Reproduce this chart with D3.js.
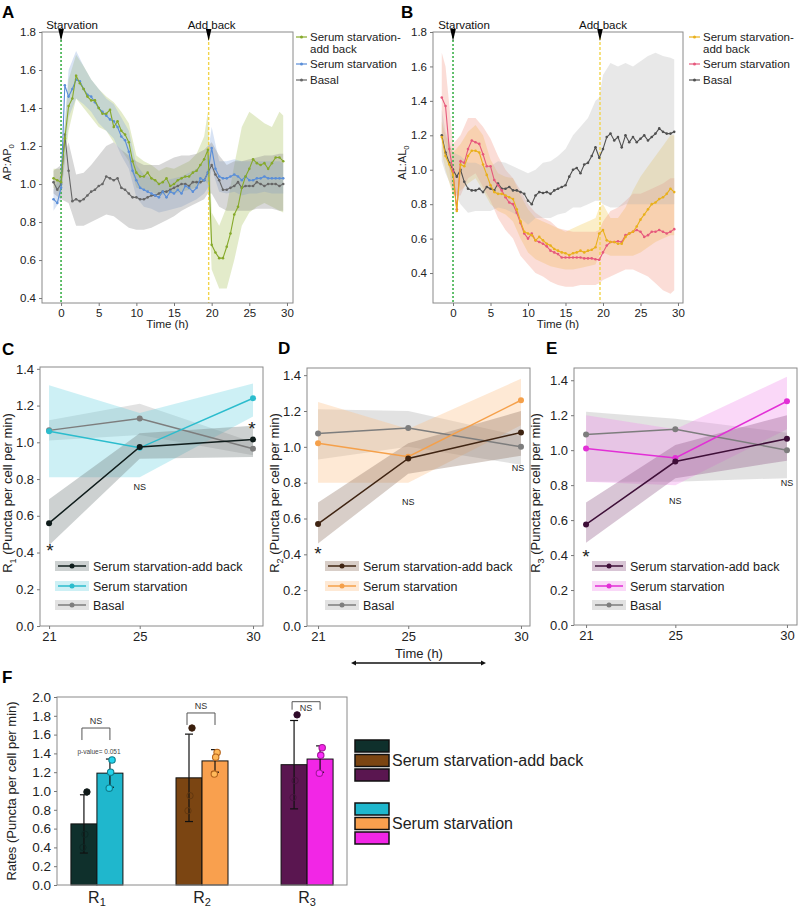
<!DOCTYPE html>
<html><head><meta charset="utf-8">
<script src="https://cdn.jsdelivr.net/npm/d3@7"></script>
<style>body{margin:0;background:#fff}</style>
</head><body>
<script>
// ---------------- DATA ----------------
const tA = [-1,-0.5,0,0.5,1,1.5,2,2.5,3,3.5,4,4.5,5,5.5,6,6.5,7,7.5,8,8.5,9,9.5,10,10.5,11,11.5,12,12.5,13,13.5,14,14.5,15,15.5,16,16.5,17,17.5,18,18.5,19,19.5,20,20.5,21,21.5,22,22.5,23,23.5,24,24.5,25,25.5,26,26.5,27,27.5,28,28.5,29,29.5];
const aAddBack = [1.03,1.02,1.01,1.24,1.41,1.45,1.57,1.53,1.50,1.46,
 1.44,1.44,1.40,1.37,1.37,1.39,1.30,1.33,1.28,1.26,
 1.22,1.12,1.06,1.04,1.04,1.06,1.03,1.02,1.00,1.01,
 1.03,0.99,1.00,1.02,1.03,1.04,1.04,1.06,1.07,1.10,
 1.13,1.18,0.68,0.64,0.61,0.61,0.67,0.74,0.84,0.88,
 0.98,1.04,1.08,1.13,1.11,1.10,1.11,1.08,1.11,1.14,
 1.14,1.12];
const aStarv = [0.92,0.90,0.98,1.52,1.46,1.50,1.55,1.54,1.50,1.47,
 1.46,1.43,1.40,1.38,1.36,1.34,1.33,1.30,1.25,1.23,
 1.17,1.07,1.02,0.98,0.97,0.96,0.95,0.94,0.93,0.96,
 0.93,0.96,0.95,0.97,0.95,0.99,0.98,0.96,0.98,1.03,
 1.02,1.06,1.19,1.08,1.04,1.03,1.03,1.04,1.05,1.04,
 1.02,1.04,1.02,1.02,1.03,1.03,1.04,1.03,1.03,1.03,
 1.03,1.03];
const aBasal = [1.01,0.97,1.00,1.26,1.07,0.91,0.92,0.91,0.92,0.94,
 0.96,0.97,0.99,1.00,1.04,1.03,1.02,1.03,0.98,0.97,
 0.95,0.93,0.93,0.92,0.92,0.93,0.94,0.94,0.95,0.96,
 0.96,0.97,0.98,0.99,1.00,1.00,0.99,1.01,1.01,1.01,
 1.02,1.06,1.10,1.05,1.02,0.97,0.97,0.98,0.99,1.01,
 0.98,0.99,0.99,0.99,1.01,1.00,0.99,1.00,1.00,1.00,
 0.99,1.00];
const bandTA = [-1,0,1,2,3,4,5,6,7,8,9,10,11,12,13,14,15,16,17,18,19,19.5,20,21,22,23,24,25,26,27,28,29,29.5];
const aAddLo = [0.98,0.95,1.28,1.45,1.40,1.35,1.30,1.28,1.22,1.18,1.12,0.98,0.97,0.96,0.94,0.95,0.95,0.96,0.97,0.98,1.02,1.00,0.55,0.45,0.45,0.60,0.78,0.85,0.88,0.90,0.88,0.86,0.85];
const aAddHi = [1.08,1.08,1.55,1.68,1.62,1.55,1.50,1.46,1.43,1.38,1.32,1.15,1.12,1.10,1.07,1.09,1.08,1.10,1.12,1.16,1.25,1.38,0.85,0.78,0.88,1.10,1.30,1.38,1.35,1.32,1.30,1.38,1.36];
const aStarvLo = [0.86,0.92,1.35,1.45,1.42,1.38,1.32,1.28,1.24,1.15,1.08,0.93,0.88,0.87,0.85,0.86,0.87,0.88,0.90,0.92,0.95,0.98,1.08,0.96,0.95,0.96,0.94,0.95,0.95,0.96,0.95,0.95,0.95];
const aStarvHi = [0.97,1.05,1.60,1.70,1.62,1.55,1.50,1.45,1.42,1.35,1.28,1.10,1.05,1.03,1.01,1.02,1.03,1.04,1.06,1.08,1.12,1.16,1.30,1.12,1.12,1.13,1.12,1.12,1.12,1.12,1.12,1.12,1.11];
const aBasalLo = [0.95,0.92,0.90,0.78,0.78,0.80,0.82,0.84,0.83,0.80,0.77,0.76,0.76,0.77,0.79,0.81,0.83,0.86,0.88,0.90,0.92,0.95,0.95,0.88,0.86,0.86,0.86,0.86,0.87,0.87,0.87,0.86,0.86];
const aBasalHi = [1.07,1.10,1.22,1.05,1.06,1.10,1.15,1.20,1.22,1.18,1.15,1.12,1.10,1.10,1.10,1.12,1.14,1.15,1.15,1.16,1.18,1.20,1.22,1.15,1.10,1.12,1.12,1.13,1.14,1.15,1.15,1.16,1.16];

const tB = [-1.5,-1,-0.5,0,0.5,1,1.5,2,2.5,3,3.5,4,4.5,5,5.5,6,6.5,7,7.5,8,8.5,9,9.5,10,10.5,11,11.5,12,12.5,13,13.5,14,14.5,15,15.5,16,16.5,17,17.5,18,18.5,19,19.5,20,20.5,21,21.5,22,22.5,23,23.5,24,24.5,25,25.5,26,26.5,27,27.5,28,28.5,29,29.5];
const bAddBack = [1.19,1.08,1.03,0.97,0.76,1.03,1.02,1.08,1.11,1.11,
 1.10,1.03,0.97,0.91,0.87,0.86,0.86,0.85,0.84,0.83,
 0.77,0.70,0.64,0.63,0.62,0.59,0.61,0.59,0.57,0.56,
 0.54,0.53,0.52,0.515,0.505,0.515,0.52,0.53,0.52,0.53,
 0.535,0.55,0.63,0.65,0.59,0.58,0.58,0.57,0.57,0.61,
 0.63,0.64,0.67,0.71,0.74,0.77,0.80,0.81,0.83,0.84,
 0.86,0.89,0.87];
const bStarv = [1.42,1.37,1.12,0.99,0.77,1.05,1.04,1.12,1.17,1.16,
 1.15,1.09,1.02,1.02,0.94,0.91,0.88,0.84,0.81,0.80,
 0.75,0.69,0.63,0.60,0.63,0.59,0.58,0.57,0.555,0.53,
 0.52,0.51,0.49,0.49,0.49,0.49,0.49,0.49,0.485,0.485,
 0.485,0.48,0.477,0.52,0.56,0.58,0.58,0.585,0.58,0.62,
 0.63,0.64,0.65,0.64,0.61,0.62,0.64,0.64,0.65,0.64,
 0.63,0.64,0.655];
const bBasal = [1.20,1.10,1.04,1.00,0.96,1.00,0.93,0.89,0.88,0.88,
 0.89,0.87,0.90,0.89,0.88,0.92,0.89,0.89,0.90,0.88,
 0.88,0.87,0.86,0.82,0.80,0.85,0.87,0.865,0.87,0.86,
 0.88,0.89,0.90,0.91,0.96,1.00,1.01,0.98,1.03,1.04,
 1.08,1.13,1.07,1.12,1.19,1.21,1.17,1.19,1.13,1.20,
 1.16,1.19,1.16,1.18,1.20,1.17,1.19,1.21,1.24,1.22,
 1.21,1.21,1.22];
const bandTB = [-1.5,-1,0,1,2,3,4,5,6,7,8,9,10,11,12,13,14,15,16,17,18,19,19.5,20,21,22,23,24,25,26,27,28,29,29.5];
const bAddLo = [1.10,1.00,0.85,0.88,0.92,0.95,0.88,0.80,0.76,0.74,0.70,0.60,0.52,0.48,0.46,0.44,0.43,0.42,0.42,0.43,0.44,0.45,0.50,0.52,0.50,0.50,0.50,0.50,0.52,0.55,0.58,0.60,0.62,0.62];
const bAddHi = [1.28,1.20,1.10,1.15,1.22,1.26,1.20,1.06,0.98,0.96,0.95,0.85,0.77,0.72,0.70,0.68,0.66,0.64,0.66,0.68,0.70,0.72,0.78,0.80,0.72,0.72,0.78,0.88,0.96,1.02,1.08,1.14,1.20,1.20];
const bStarvLo = [1.20,1.15,0.85,0.85,0.95,0.98,0.90,0.82,0.72,0.65,0.60,0.50,0.45,0.40,0.38,0.35,0.33,0.32,0.32,0.33,0.33,0.33,0.34,0.36,0.38,0.40,0.42,0.42,0.40,0.38,0.34,0.30,0.28,0.30];
const bStarvHi = [1.68,1.60,1.15,1.20,1.30,1.30,1.25,1.18,1.08,1.00,0.95,0.88,0.80,0.75,0.72,0.70,0.66,0.65,0.64,0.64,0.64,0.64,0.65,0.70,0.76,0.78,0.82,0.86,0.86,0.88,0.90,0.92,0.95,0.95];
const bBasalLo = [1.05,0.98,0.88,0.80,0.75,0.76,0.76,0.76,0.78,0.77,0.75,0.72,0.68,0.72,0.72,0.72,0.74,0.75,0.78,0.78,0.80,0.82,0.82,0.80,0.78,0.78,0.80,0.80,0.80,0.80,0.80,0.80,0.80,0.80];
const bBasalHi = [1.35,1.22,1.10,1.08,1.04,1.04,1.02,1.02,1.05,1.04,1.02,1.00,0.98,1.00,1.04,1.05,1.08,1.12,1.20,1.25,1.30,1.40,1.42,1.55,1.62,1.60,1.62,1.60,1.63,1.66,1.68,1.66,1.65,1.64];

const tsTicksX = [0,5,10,15,20,25,30];
const tsTicksY = [0.4,0.6,0.8,1.0,1.2,1.4,1.6,1.8];
const eventTimes = [0, 19.6];
const eventLabels = ["Starvation", "Add back"];

const rateX = [21, 25, 30];
const rateTicksY = [0,0.2,0.4,0.6,0.8,1.0,1.2,1.4];
const cAdd = [0.56,0.975,1.015], cAddLo = [0.44,0.91,0.92], cAddHi = [0.69,1.05,1.09];
const cStarv = [1.06,0.97,1.24], cStarvLo = [0.81,0.81,1.14], cStarvHi = [1.31,1.16,1.32];
const cBasal = [1.065,1.13,0.965], cBasalLo = [1.01,1.04,0.93], cBasalHi = [1.12,1.21,1.0];
const dAdd = [0.57,0.935,1.08], dAddLo = [0.46,0.85,0.95], dAddHi = [0.69,1.02,1.2];
const dStarv = [1.02,0.945,1.26], dStarvLo = [0.8,0.8,1.12], dStarvHi = [1.25,1.1,1.38];
const dBasal = [1.075,1.105,1.0], dBasalLo = [0.93,1.0,0.9], dBasalHi = [1.21,1.2,1.06];
const eAdd = [0.575,0.935,1.065], eAddLo = [0.47,0.84,0.94], eAddHi = [0.70,1.03,1.2];
const eStarv = [1.01,0.955,1.28], eStarvLo = [0.82,0.8,1.12], eStarvHi = [1.2,1.12,1.42];
const eBasal = [1.09,1.12,1.0], eBasalLo = [0.82,0.82,0.84], eBasalHi = [1.22,1.18,1.1];

const fGroups = ["R1","R2","R3"];
const fAddMean = [0.65,1.14,1.28];
const fAddSD = [0.31,0.465,0.47];
const fStarvMean = [1.19,1.32,1.34];
const fStarvSD = [0.15,0.12,0.14];
const fAddPts = [[0.99,0.54,0.40],[1.67,0.95,0.79],[1.81,1.11,0.93]];
const fStarvPts = [[1.33,1.20,1.03],[1.41,1.36,1.18],[1.46,1.38,1.19]];
const fBracket = [1.67,1.83,1.95];
const fTicksY = [0,0.2,0.4,0.6,0.8,1.0,1.2,1.4,1.6,1.8,2.0];

// ---------------- DRAW ----------------
const FONT = 'Arial, "Liberation Sans", Helvetica, sans-serif';
const svg = d3.select('body').append('svg').attr('width',800).attr('height',908)
  .style('font-family', FONT);
const fmt = d3.format('.1f');

function frame(x0,y0,x1,y1){
  svg.append('rect').attr('x',x0).attr('y',y0).attr('width',x1-x0).attr('height',y1-y0)
    .attr('fill','none').attr('stroke','#8a8a8a').attr('stroke-width',1);
}
function styleAxis(g, fs){
  g.select('path.domain').remove();
  g.selectAll('line').attr('stroke','#777');
  g.selectAll('text').attr('font-family',FONT).attr('font-size',fs).attr('fill','#222');
}
function letter(ch,x,y){
  svg.append('text').attr('x',x).attr('y',y).text(ch).attr('font-size',17).attr('font-weight','bold').attr('fill','#000');
}
function subLabel(x,y,main,sub,rest,fs,rot){
  const t = svg.append('text').attr('transform',`translate(${x},${y})`+(rot?' rotate(-90)':''))
    .attr('text-anchor','middle').attr('font-size',fs).attr('fill','#222');
  t.append('tspan').text(main);
  t.append('tspan').attr('dy',fs*0.3).attr('font-size',fs*0.7).text(sub);
  if(rest) t.append('tspan').attr('dy',-fs*0.3).text(rest);
  return t;
}

function tsPanel(c){
  const x = d3.scaleLinear().domain(c.xDom).range([c.L,c.R]);
  const y = d3.scaleLinear().domain(c.yDom).range([c.B,c.T]);
  const cid = 'clip'+c.id;
  svg.append('clipPath').attr('id',cid).append('rect').attr('x',c.L).attr('y',c.T).attr('width',c.R-c.L).attr('height',c.B-c.T);
  const pg = svg.append('g').attr('clip-path',`url(#${cid})`);
  c.series.forEach(s=>{
    pg.append('path').datum(c.bandT.map((t,i)=>[t,s.lo[i],s.hi[i]]))
      .attr('d', d3.area().x(d=>x(d[0])).y0(d=>y(d[1])).y1(d=>y(d[2])))
      .attr('fill', s.band).attr('fill-opacity', s.bop);
  });
  pg.append('line').attr('x1',x(eventTimes[0])).attr('x2',x(eventTimes[0])).attr('y1',c.T).attr('y2',c.B)
    .attr('stroke','#3db04a').attr('stroke-width',1.6).attr('stroke-dasharray','2,2');
  pg.append('line').attr('x1',x(eventTimes[1])).attr('x2',x(eventTimes[1])).attr('y1',c.T).attr('y2',c.B)
    .attr('stroke','#f2d44a').attr('stroke-width',1.4).attr('stroke-dasharray','3,2');
  [...c.series].reverse().forEach(s=>{
    const pts = c.t.map((t,i)=>[t,s.v[i]]);
    pg.append('path').datum(pts).attr('d', d3.line().x(d=>x(d[0])).y(d=>y(d[1])))
      .attr('fill','none').attr('stroke',s.color).attr('stroke-width',1.1);
    pg.selectAll(null).data(pts).enter().append('circle')
      .attr('cx',d=>x(d[0])).attr('cy',d=>y(d[1])).attr('r',1.3).attr('fill',s.color);
  });
  frame(c.L,c.T,c.R,c.B);
  const ga = svg.append('g').attr('transform',`translate(${c.L},0)`)
    .call(d3.axisLeft(y).tickValues(tsTicksY).tickFormat(fmt).tickSize(3));
  styleAxis(ga,11.5);
  const gb = svg.append('g').attr('transform',`translate(0,${c.B})`)
    .call(d3.axisBottom(x).tickValues(tsTicksX).tickSize(3).tickFormat(d3.format('d')));
  styleAxis(gb,11.5);
  svg.append('text').attr('x',(c.L+c.R)/2).attr('y',c.B+25).attr('text-anchor','middle')
    .attr('font-size',11.5).attr('fill','#222').text('Time (h)');
  eventTimes.forEach((t,i)=>{
    const ex = x(t);
    svg.append('path').attr('d',`M${ex-2.8},${c.T-3}L${ex+2.8},${c.T-3}L${ex},${c.T+9}Z`).attr('fill','#000');
    svg.append('text').attr('x', ex + (i===0 ? 11 : 3)).attr('y',c.T-3).attr('text-anchor','middle')
      .attr('font-size',11.5).attr('fill','#111').text(eventLabels[i]);
  });
  const rows = [{lab:['Serum starvation-','add back'],y:37},{lab:['Serum starvation'],y:64},{lab:['Basal'],y:80}];
  rows.forEach((r,i)=>{
    const s = c.series[i];
    svg.append('line').attr('x1',c.legX).attr('x2',c.legX+11).attr('y1',r.y).attr('y2',r.y).attr('stroke',s.color).attr('stroke-width',1.2);
    svg.append('circle').attr('cx',c.legX+5.5).attr('cy',r.y).attr('r',1.5).attr('fill',s.color);
    r.lab.forEach((l,k)=>{
      svg.append('text').attr('x',c.legX+14).attr('y',r.y+4+k*11.5).attr('font-size',11.5).attr('fill','#222').text(l);
    });
  });
  subLabel(c.yLabX, (c.T+c.B)/2 - 5, c.yMain, '0', null, 11, true);
}

tsPanel({id:'A', L:42, R:293, T:32, B:303, xDom:[-2.53,30.8], yDom:[0.374,1.8], t:tA, bandT:bandTA,
  legX:296, yLabX:11, yMain:'AP:AP',
  series:[
    {v:aAddBack, lo:aAddLo, hi:aAddHi, color:'#86a92a', band:'#a9c25a', bop:0.32},
    {v:aStarv, lo:aStarvLo, hi:aStarvHi, color:'#5a8ed8', band:'#86a8dc', bop:0.32},
    {v:aBasal, lo:aBasalLo, hi:aBasalHi, color:'#666', band:'#8a8a8a', bop:0.33}
  ]});
tsPanel({id:'B', L:433, R:683, T:32, B:303, xDom:[-2.67,30.67], yDom:[0.226,1.8], t:tB, bandT:bandTB,
  legX:689, yLabX:406, yMain:'AL:AL',
  series:[
    {v:bAddBack, lo:bAddLo, hi:bAddHi, color:'#e9b01c', band:'#f2c84a', bop:0.3},
    {v:bStarv, lo:bStarvLo, hi:bStarvHi, color:'#e6587c', band:'#f2907a', bop:0.3},
    {v:bBasal, lo:bBasalLo, hi:bBasalHi, color:'#505050', band:'#b4b4b4', bop:0.3}
  ]});
letter('A',2,18); letter('B',401,18);

function ratePanel(c){
  const x = d3.scaleLinear().domain(c.xDom).range([c.L,c.R]);
  const y = d3.scaleLinear().domain([0,c.yMax]).range([c.B,c.T]);
  const order = [c.series[2], c.series[1], c.series[0]];
  order.forEach(s=>{
    svg.append('path').datum(rateX.map((t,i)=>[t,s.lo[i],s.hi[i]]))
      .attr('d', d3.area().x(d=>x(d[0])).y0(d=>y(d[1])).y1(d=>y(d[2])))
      .attr('fill', s.band).attr('fill-opacity', s.bop);
  });
  order.forEach(s=>{
    const pts = rateX.map((t,i)=>[t,s.v[i]]);
    svg.append('path').datum(pts).attr('d', d3.line().x(d=>x(d[0])).y(d=>y(d[1])))
      .attr('fill','none').attr('stroke',s.color).attr('stroke-width',1.5);
    svg.selectAll(null).data(pts).enter().append('circle')
      .attr('cx',d=>x(d[0])).attr('cy',d=>y(d[1])).attr('r',3).attr('fill',s.color);
  });
  frame(c.L,c.T,c.R,c.B);
  const ga = svg.append('g').attr('transform',`translate(${c.L},0)`)
    .call(d3.axisLeft(y).tickValues(rateTicksY).tickFormat(fmt).tickSize(3));
  styleAxis(ga,13);
  const gb = svg.append('g').attr('transform',`translate(0,${c.B})`)
    .call(d3.axisBottom(x).tickValues(rateX).tickSize(3).tickFormat(d3.format('d')));
  styleAxis(gb,13);
  c.notes.forEach(n=>{
    const isStar = n.t==='*';
    svg.append('text').attr('x',x(n.x)+(n.dx||0)).attr('y',y(n.y)).attr('text-anchor','middle')
      .attr('dominant-baseline','central').attr('font-size',isStar?19:9).attr('fill','#222').text(n.t)
      .attr('dy', isStar?5:0);
  });
  const labs = ['Serum starvation-add back','Serum starvation','Basal'];
  [566,586,605].forEach((ry,i)=>{
    const s = c.series[i];
    svg.append('rect').attr('x',c.legX-3).attr('y',ry-5).attr('width',34).attr('height',10)
      .attr('fill',s.band).attr('fill-opacity',s.bop);
    svg.append('line').attr('x1',c.legX).attr('x2',c.legX+28).attr('y1',ry).attr('y2',ry).attr('stroke',s.color).attr('stroke-width',1.5);
    svg.append('circle').attr('cx',c.legX+14).attr('cy',ry).attr('r',2.5).attr('fill',s.color);
    svg.append('text').attr('x',c.legX+35).attr('y',ry+4.5).attr('font-size',12.5).attr('fill','#222').text(labs[i]);
  });
  subLabel(c.yLabX, 493, 'R', c.sub, ' (Puncta per cell per min)', 13, true);
}

ratePanel({L:40, R:263, T:367, B:626, xDom:[20.6,30.44], yMax:1.41, legX:58, yLabX:12, sub:'1',
  series:[
    {v:cAdd, lo:cAddLo, hi:cAddHi, color:'#0f1c1b', band:'#6f7c7a', bop:0.35},
    {v:cStarv, lo:cStarvLo, hi:cStarvHi, color:'#2bbccd', band:'#6fd3e3', bop:0.35},
    {v:cBasal, lo:cBasalLo, hi:cBasalHi, color:'#7d7d7d', band:'#a0a0a0', bop:0.3}],
  notes:[{t:'*',x:21,y:0.44,dx:1},{t:'*',x:30,y:1.10,dx:-1},{t:'NS',x:25,y:0.755}]});
ratePanel({L:307, R:530, T:368, B:626, xDom:[20.51,30.4], yMax:1.44, legX:328, yLabX:279, sub:'2',
  series:[
    {v:dAdd, lo:dAddLo, hi:dAddHi, color:'#3f2412', band:'#8f7260', bop:0.35},
    {v:dStarv, lo:dStarvLo, hi:dStarvHi, color:'#f5a04a', band:'#fbbf88', bop:0.35},
    {v:dBasal, lo:dBasalLo, hi:dBasalHi, color:'#7d7d7d', band:'#a0a0a0', bop:0.3}],
  notes:[{t:'*',x:21,y:0.43},{t:'NS',x:25,y:0.69},{t:'NS',x:30,y:0.88,dx:-3}]});
ratePanel({L:574, R:797, T:368, B:625, xDom:[20.46,30.45], yMax:1.47, legX:595, yLabX:540, sub:'3',
  series:[
    {v:eAdd, lo:eAddLo, hi:eAddHi, color:'#3e0f38', band:'#8e5a88', bop:0.35},
    {v:eStarv, lo:eStarvLo, hi:eStarvHi, color:'#e22fd6', band:'#f08eec', bop:0.35},
    {v:eBasal, lo:eBasalLo, hi:eBasalHi, color:'#7d7d7d', band:'#a0a0a0', bop:0.3}],
  notes:[{t:'*',x:21,y:0.42},{t:'NS',x:25,y:0.71},{t:'NS',x:30,y:0.81}]});
letter('C',2,355); letter('D',278,354); letter('E',546,354);

svg.append('text').attr('x',419).attr('y',658).attr('text-anchor','middle').attr('font-size',13).attr('fill','#222').text('Time (h)');
svg.append('line').attr('x1',353).attr('x2',484).attr('y1',663).attr('y2',663).attr('stroke','#111').attr('stroke-width',1.6);
svg.append('path').attr('d','M351,663L356,660.5L356,665.5Z M486,663L481,660.5L481,665.5Z').attr('fill','#111');

// ---------------- PANEL F ----------------
(function(){
  const L=57, R=347, T=697, B=885;
  const x = d3.scalePoint().domain(fGroups).range([L,R]).padding(0.38);
  const xs = d3.scaleBand().domain(['add','starv']).range([-26,26]);
  const y = d3.scaleLinear().domain([0,2.0]).range([B,T]);
  const addCols = ['#0f302c','#7b4512','#5a1650'];
  const starvCols = ['#1fb7cd','#f9a04e','#f226e6'];
  const addPtCol = ['#101a19','#3a1e0c','#2e0a29'];
  const starvPtCol = ['#0f7d8c','#b5651e','#a4189a'];
  fGroups.forEach((gname,i)=>{
    const cx = x(gname);
    [['add',fAddMean,fAddSD,addCols],['starv',fStarvMean,fStarvSD,starvCols]].forEach(([k,m,sd,cols])=>{
      const bx = cx + xs(k);
      svg.append('rect').attr('x',bx).attr('y',y(m[i])).attr('width',xs.bandwidth()).attr('height',B-y(m[i]))
        .attr('fill',cols[i]).attr('stroke','#111').attr('stroke-width',1);
      const mx = bx + xs.bandwidth()/2;
      const hi = y(m[i]+sd[i]), lo = y(m[i]-sd[i]);
      svg.append('line').attr('x1',mx).attr('x2',mx).attr('y1',hi).attr('y2',lo).attr('stroke','#111').attr('stroke-width',1.2);
      [hi,lo].forEach(yy=>svg.append('line').attr('x1',mx-4).attr('x2',mx+4).attr('y1',yy).attr('y2',yy).attr('stroke','#111').attr('stroke-width',1.2));
    });
    const jit = [3,1,-1];
    fAddPts[i].forEach((v,j)=>{
      const mx = cx + xs('add') + xs.bandwidth()/2 + jit[j];
      svg.append('circle').attr('cx',mx).attr('cy',y(v)).attr('r',3.2)
        .attr('fill', j===0 ? addPtCol[i] : 'none').attr('stroke', j===0 ? addPtCol[i] : d3.color(addCols[i]).darker(0.6)).attr('stroke-width',1);
    });
    fStarvPts[i].forEach((v,j)=>{
      const mx = cx + xs('starv') + xs.bandwidth()/2 + jit[j]*0.7;
      svg.append('circle').attr('cx',mx).attr('cy',y(v)).attr('r',3.2)
        .attr('fill', j===0 && i===2 ? starvCols[i] : d3.color(starvCols[i]).brighter(0.4)).attr('stroke',starvPtCol[i]).attr('stroke-width',1.1);
    });
    const x1 = cx + xs('add') + xs.bandwidth()/2 - 2, x2 = cx + xs('starv') + xs.bandwidth()/2;
    const top = y(fBracket[i]), leg = top + (i===2 ? 8 : 12);
    svg.append('path').attr('d',`M${x1},${leg}L${x1},${top}L${x2},${top}L${x2},${leg}`)
      .attr('fill','none').attr('stroke','#555').attr('stroke-width',1);
    svg.append('text').attr('x',(x1+x2)/2).attr('y', i===2 ? top+9 : top-4).attr('text-anchor','middle')
      .attr('font-size',9).attr('fill','#333').text('NS');
  });
  svg.append('text').attr('x',99).attr('y',754).attr('text-anchor','middle').attr('font-size',6.5).attr('fill','#444').text('p-value= 0.051');
  frame(L,T,R,B);
  const ga = svg.append('g').attr('transform',`translate(${L},0)`)
    .call(d3.axisLeft(y).tickValues(fTicksY).tickFormat(fmt).tickSize(3));
  styleAxis(ga,13.5);
  fGroups.forEach((gname,i)=>{
    const t = svg.append('text').attr('x',x(gname)).attr('y',903).attr('text-anchor','middle').attr('font-size',16).attr('fill','#222');
    t.append('tspan').text('R');
    t.append('tspan').attr('dy',3).attr('font-size',11).text(String(i+1));
  });
  svg.append('text').attr('transform',`translate(16,${(T+B)/2}) rotate(-90)`).attr('text-anchor','middle')
    .attr('font-size',13).attr('fill','#222').text('Rates (Puncta per cell per min)');
  [[addCols,740,'Serum starvation-add back'],[starvCols,803,'Serum starvation']].forEach(([cols,y0,lab])=>{
    cols.forEach((col,k)=>{
      svg.append('rect').attr('x',355).attr('y',y0+k*14.5).attr('width',34).attr('height',12)
        .attr('fill',col).attr('stroke','#111').attr('stroke-width',1.5);
    });
    svg.append('text').attr('x',392).attr('y',y0+26).attr('font-size',16).attr('fill','#222').text(lab);
  });
  letter('F',2,683);
})();
</script>
</body></html>
